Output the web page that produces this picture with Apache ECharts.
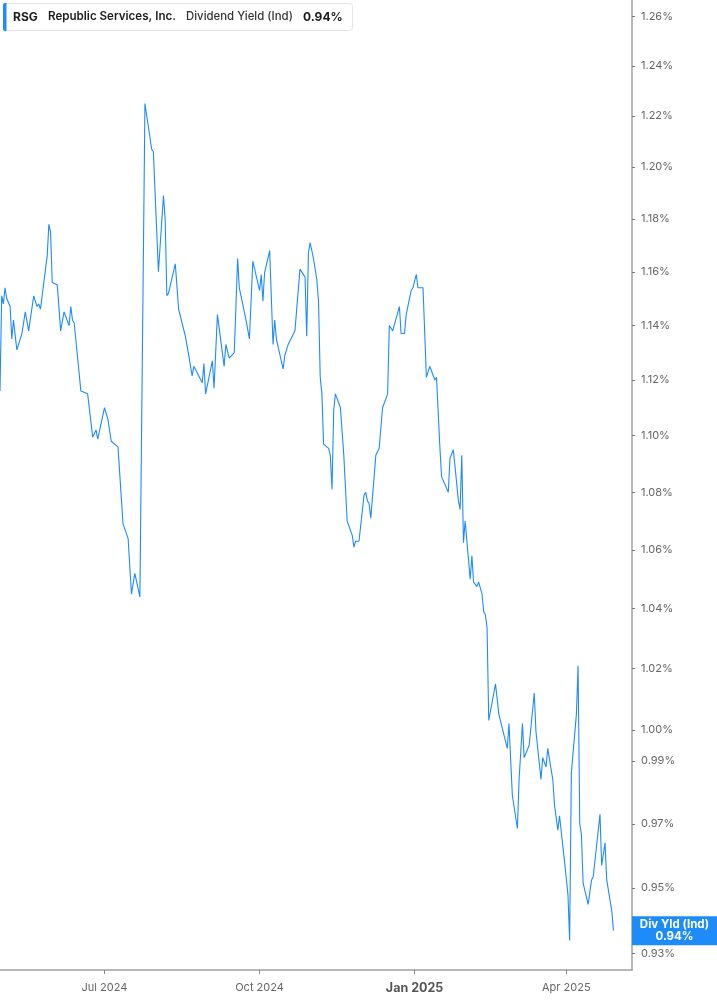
<!DOCTYPE html>
<html><head><meta charset="utf-8">
<script src="https://cdn.jsdelivr.net/npm/echarts@6/dist/echarts.min.js"></script>
<style>html,body{margin:0;padding:0;background:#fff}#c{width:717px;height:1005px}</style>
</head><body><div id="c"></div>
<script>
const dates = [
'2024-04-30','2024-05-01','2024-05-02','2024-05-03','2024-05-04','2024-05-06','2024-05-07','2024-05-08','2024-05-10','2024-05-13',
'2024-05-15','2024-05-17','2024-05-20','2024-05-22','2024-05-23','2024-05-24','2024-05-28','2024-05-29','2024-05-30','2024-05-31',
'2024-06-03','2024-06-05','2024-06-07','2024-06-10','2024-06-11','2024-06-12','2024-06-13','2024-06-17','2024-06-21','2024-06-24',
'2024-06-26','2024-06-27','2024-07-01','2024-07-03','2024-07-05','2024-07-09','2024-07-12','2024-07-15','2024-07-17','2024-07-19',
'2024-07-22','2024-07-25','2024-07-27','2024-07-29','2024-07-30','2024-08-02','2024-08-05','2024-08-06','2024-08-07','2024-08-08',
'2024-08-12','2024-08-14','2024-08-18','2024-08-20','2024-08-22','2024-08-23','2024-08-28','2024-08-29','2024-08-30','2024-09-03',
'2024-09-04','2024-09-06','2024-09-10','2024-09-11','2024-09-13','2024-09-16','2024-09-18','2024-09-19','2024-09-23','2024-09-25',
'2024-09-27','2024-10-01','2024-10-02','2024-10-03','2024-10-04','2024-10-07','2024-10-09','2024-10-10','2024-10-11','2024-10-15',
'2024-10-16','2024-10-17','2024-10-18','2024-10-22','2024-10-23','2024-10-25','2024-10-28','2024-10-29','2024-10-30','2024-10-31',
'2024-11-02','2024-11-04','2024-11-05','2024-11-06','2024-11-07','2024-11-08','2024-11-11','2024-11-12','2024-11-13','2024-11-14',
'2024-11-15','2024-11-18','2024-11-20','2024-11-22','2024-11-25','2024-11-26','2024-11-27','2024-11-29','2024-12-02','2024-12-03',
'2024-12-04','2024-12-05','2024-12-06','2024-12-09','2024-12-11','2024-12-12','2024-12-13','2024-12-16','2024-12-17','2024-12-19',
'2024-12-23','2024-12-24','2024-12-26','2024-12-27','2024-12-30','2024-12-31','2025-01-02','2025-01-03','2025-01-06','2025-01-08',
'2025-01-10','2025-01-13','2025-01-14','2025-01-16','2025-01-17','2025-01-21','2025-01-22','2025-01-24','2025-01-27','2025-01-28',
'2025-01-29','2025-01-30','2025-01-31','2025-02-03','2025-02-04','2025-02-05','2025-02-07','2025-02-08','2025-02-10','2025-02-11',
'2025-02-12','2025-02-13','2025-02-14','2025-02-18','2025-02-20','2025-02-21','2025-02-25','2025-02-26','2025-02-28','2025-03-03',
'2025-03-04','2025-03-05','2025-03-06','2025-03-07','2025-03-10','2025-03-13','2025-03-14','2025-03-17','2025-03-18','2025-03-20',
'2025-03-21','2025-03-24','2025-03-25','2025-03-26','2025-03-27','2025-03-28','2025-03-31','2025-04-02','2025-04-03','2025-04-04',
'2025-04-07','2025-04-08','2025-04-09','2025-04-10','2025-04-11','2025-04-14','2025-04-16','2025-04-17','2025-04-21','2025-04-22',
'2025-04-24','2025-04-25','2025-04-28','2025-04-29'
];
const yieldValues = [
1.116,1.151,1.148,1.154,1.150,1.147,1.135,1.142,1.131,1.137,
1.145,1.138,1.151,1.147,1.148,1.146,1.166,1.178,1.175,1.156,
1.155,1.138,1.145,1.140,1.147,1.142,1.141,1.116,1.115,1.0995,
1.102,1.0988,1.110,1.106,1.098,1.096,1.069,1.064,1.045,1.052,
1.044,1.225,1.216,1.207,1.206,1.160,1.189,1.180,1.151,1.152,
1.163,1.146,1.136,1.129,1.1215,1.125,1.119,1.126,1.115,1.127,
1.117,1.144,1.125,1.133,1.128,1.130,1.165,1.154,1.142,1.135,
1.164,1.153,1.159,1.149,1.1597,1.168,1.133,1.142,1.135,1.124,
1.129,1.129,1.133,1.138,1.138,1.161,1.158,1.136,1.167,1.171,
1.165,1.157,1.149,1.121,1.115,1.097,1.0955,1.093,1.081,1.109,
1.115,1.110,1.093,1.070,1.065,1.061,1.063,1.063,1.079,1.080,
1.077,1.076,1.071,1.093,1.0955,1.103,1.110,1.115,1.140,1.138,
1.147,1.137,1.137,1.144,1.153,1.154,1.159,1.154,1.154,1.121,
1.125,1.120,1.121,1.096,1.0855,1.080,1.092,1.095,1.077,1.074,
1.093,1.0625,1.070,1.050,1.058,1.049,1.0475,1.049,1.045,1.039,
1.038,1.0335,1.003,1.015,1.005,1.005,0.994,1.002,0.979,0.9685,
0.984,0.984,1.002,0.991,0.995,1.012,0.9995,0.984,0.991,0.988,
0.994,0.984,0.976,0.976,0.968,0.9725,0.958,0.948,0.934,0.986,
1.005,1.021,0.970,0.9665,0.9515,0.945,0.9525,0.9535,0.973,0.957,
0.964,0.9525,0.943,0.937
];
const xTickDates = ['2024-07-01','2024-10-01','2025-01-01','2025-04-01'];
const xRange = ['2024-04-30','2025-05-10'];
const yTickValues = [0.93,0.95,0.97,0.99,1.00,1.02,1.04,1.06,1.08,1.10,1.12,1.14,1.16,1.18,1.20,1.22,1.24,1.26];
const monthNames = ['Jan','Feb','Mar','Apr','May','Jun','Jul','Aug','Sep','Oct','Nov','Dec'];

const toTime = s => Date.parse(s + 'T00:00:00Z');
const seriesData = dates.map((d, i) => [toTime(d), yieldValues[i]]);
const lastValue = yieldValues[yieldValues.length - 1];
const blue = '#1e8cf8';
const FONT = 'Inter, Roboto, "Noto Sans", sans-serif';
const xTicks = xTickDates.map(toTime);

const chart = echarts.init(document.getElementById('c'), null, {renderer: 'canvas'});
chart.setOption({
  animation: false,
  backgroundColor: '#fff',
  textStyle: {fontFamily: FONT},
  grid: {left: 0, right: 85, top: 0, bottom: 35, containLabel: false, outerBoundsMode: 'none'},
  xAxis: {
    type: 'value', min: toTime(xRange[0]), max: toTime(xRange[1]), scale: true,
    axisLine: {show: true, lineStyle: {color: '#a0a0a0', width: 1.5}},
    axisTick: {show: true, length: 4, customValues: xTicks, lineStyle: {color: '#8a8a8a'}},
    axisLabel: {
      customValues: xTicks, margin: 12, color: '#666', fontSize: 11, fontFamily: FONT,
      formatter: function (v) {
        const d = new Date(v);
        const s = monthNames[d.getUTCMonth()] + ' ' + d.getUTCFullYear();
        return d.getUTCMonth() === 0 ? '{b|' + s + '}' : s;
      },
      rich: {b: {fontWeight: 'bold', fontSize: 12.5, color: '#555', fontFamily: FONT}}
    },
    splitLine: {show: false}
  },
  yAxis: {
    type: 'log', logBase: 10, position: 'right', min: 0.9251, max: 1.2668,
    axisLine: {show: true, lineStyle: {color: '#a0a0a0', width: 1.5}},
    axisTick: {show: true, inside: false, length: 3, customValues: yTickValues, lineStyle: {color: '#777'}},
    axisLabel: {
      customValues: yTickValues, margin: 9, color: '#666', fontSize: 11, fontFamily: FONT,
      formatter: function (v) { return Number(v).toFixed(2) + '%'; }
    },
    splitLine: {show: false}
  },
  series: [{
    type: 'line', data: seriesData, symbol: 'none', showSymbol: false,
    lineStyle: {color: blue, width: 1.1}, clip: false,
    markLine: {
      silent: true, symbol: ['none', 'none'], animation: false,
      lineStyle: {color: 'rgba(0,0,0,0)', width: 1, type: 'solid'},
      data: [{yAxis: lastValue}],
      label: {
        show: true, opacity: 1, position: 'end', distance: 0, verticalAlign: 'middle', offset: [0, 10],
        backgroundColor: blue, padding: [2, 4, 2, 4],
        formatter: function (p) { return '{a|Div Yld (Ind)}\n{a|' + Number(p.value).toFixed(2) + '%}'; },
        rich: {a: {color: '#fff', fontWeight: 'bold', fontSize: 11.5, lineHeight: 12.5, width: 77, align: 'center', fontFamily: FONT}}
      }
    }
  }],
  graphic: [
    {type: 'rect', shape: {x: 3.5, y: 3.5, width: 349, height: 27, r: 3}, style: {fill: '#fff', stroke: '#e4e4e4', lineWidth: 1}},
    {type: 'rect', shape: {x: 3, y: 3, width: 3.5, height: 28, r: [2, 0, 0, 2]}, style: {fill: blue}},
    {type: 'text', x: 13, y: 17, style: {text: 'RSG', fontSize: 12, fontWeight: 'bold', fontFamily: FONT, fill: '#1c1c1c', verticalAlign: 'middle'}},
    {type: 'text', x: 48, y: 17, style: {text: 'Republic Services, Inc.', fontSize: 11.6, fontWeight: 600, fontFamily: FONT, fill: '#1c1c1c', verticalAlign: 'middle'}},
    {type: 'text', x: 186, y: 17, style: {text: 'Dividend Yield (Ind)', fontSize: 11.4, fontWeight: 500, fontFamily: FONT, fill: '#333', verticalAlign: 'middle'}},
    {type: 'text', x: 303, y: 17, style: {text: lastValue.toFixed(2) + '%', fontSize: 12, fontWeight: 'bold', fontFamily: FONT, fill: '#1c1c1c', verticalAlign: 'middle'}}
  ]
});
</script>
</body></html>
